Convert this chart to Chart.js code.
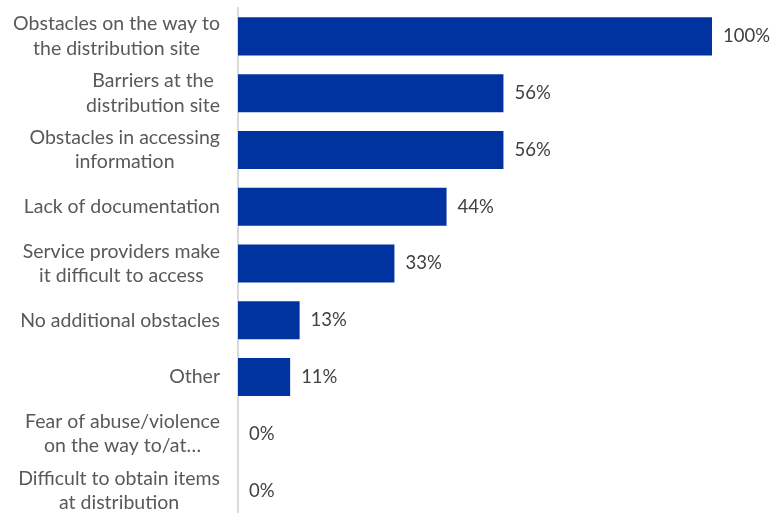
<!DOCTYPE html>
<html>
<head>
<meta charset="utf-8">
<script src="https://cdn.jsdelivr.net/npm/chart.js@4"></script>
<style>
  html, body { margin: 0; padding: 0; overflow: hidden; background: #ffffff; }
  #c { display: block; }
</style>
</head>
<body>
<canvas id="c" width="780" height="519"></canvas>
<script>
// Category labels (one entry per line of text)
const categories = [
  ['Obstacles on the way to', 'the distribution site'],
  ['Barriers at the', 'distribution site'],
  ['Obstacles in accessing', 'information'],
  ['Lack of documentation'],
  ['Service providers make', 'it difficult to access'],
  ['No additional obstacles'],
  ['Other'],
  ['Fear of abuse/violence', 'on the way to/at…'],
  ['Difficult to obtain items', 'at distribution']
];
// Share of respondents, percent
const values = [100, 56, 56, 44, 33, 13, 11, 0, 0];

const FONT = '"Lato", "Open Sans", sans-serif';
const LABEL_SIZE = 19.5;
const VALUE_SIZE = 18.5;
const LABEL_LINE = 24.5;
const LABEL_RIGHT = 220;

// Category labels: lines centred on each other, block right-aligned to the axis
const categoryLabels = {
  id: 'categoryLabels',
  afterDraw(chart) {
    const ctx = chart.ctx;
    const y = chart.scales.y;
    ctx.save();
    ctx.font = LABEL_SIZE + 'px ' + FONT;
    ctx.fillStyle = '#595959';
    ctx.textAlign = 'center';
    ctx.textBaseline = 'middle';
    categories.forEach((lines, i) => {
      const cy = y.getPixelForTick(i);
      const w = Math.max(...lines.map(l => ctx.measureText(l).width));
      const cx = LABEL_RIGHT - w / 2;
      const y0 = cy - (lines.length - 1) * LABEL_LINE / 2;
      lines.forEach((l, k) => ctx.fillText(l, cx, y0 + k * LABEL_LINE));
    });
    ctx.restore();
  }
};

// Percentage labels to the right of each bar
const valueLabels = {
  id: 'valueLabels',
  afterDatasetsDraw(chart) {
    const ctx = chart.ctx;
    const meta = chart.getDatasetMeta(0);
    ctx.save();
    ctx.font = VALUE_SIZE + 'px ' + FONT;
    ctx.fillStyle = '#404040';
    ctx.textAlign = 'left';
    ctx.textBaseline = 'middle';
    meta.data.forEach((bar, i) => {
      ctx.fillText(values[i] + '%', bar.x + 11, bar.y);
    });
    ctx.restore();
  }
};

new Chart(document.getElementById('c'), {
  type: 'bar',
  data: {
    labels: categories.map(l => l.join(' ')),
    datasets: [{
      data: values,
      backgroundColor: '#0033A0',
      borderWidth: 0,
      barPercentage: 0.67,
      categoryPercentage: 1
    }]
  },
  options: {
    indexAxis: 'y',
    responsive: false,
    animation: false,
    devicePixelRatio: 1,
    layout: { padding: { top: 8, right: 68, bottom: 0, left: 0 } },
    plugins: {
      legend: { display: false },
      tooltip: { enabled: false }
    },
    scales: {
      x: {
        display: false,
        min: 0,
        max: 100
      },
      y: {
        ticks: { display: false },
        grid: { display: false },
        border: { display: true, color: '#d9d9d9', width: 2 },
        afterFit(scale) { scale.width = 238; }
      }
    }
  },
  plugins: [categoryLabels, valueLabels]
});
</script>
</body>
</html>
